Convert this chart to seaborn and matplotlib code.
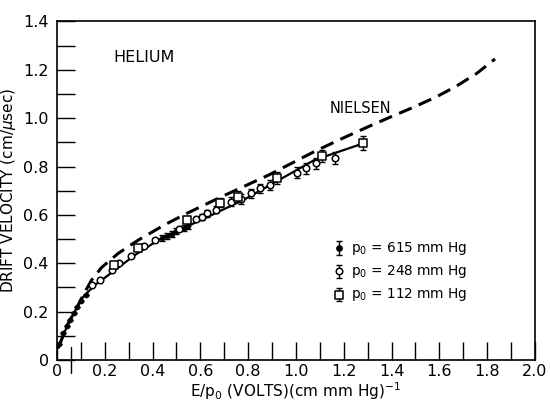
import numpy as np
import pandas as pd
import matplotlib
matplotlib.use("Agg")
import matplotlib.pyplot as plt
import seaborn as sns
from matplotlib.ticker import MultipleLocator, FixedLocator, FixedFormatter

# --- data ---
nielsen_x = [0.005, 0.047, 0.082, 0.11, 0.145, 0.187, 0.256, 0.34, 0.452, 0.536, 0.69, 0.886,
             1.077, 1.184, 1.296, 1.393, 1.491, 1.589, 1.672, 1.756, 1.833]
nielsen_y = [0.05, 0.152, 0.214, 0.269, 0.331, 0.383, 0.441, 0.496, 0.56, 0.603, 0.676, 0.765,
             0.862, 0.912, 0.962, 1.004, 1.045, 1.089, 1.133, 1.185, 1.245]

fit_x = [0.005, 0.047, 0.082, 0.11, 0.159, 0.243, 0.326, 0.424, 0.528, 0.635, 0.78, 0.93, 1.077, 1.282]
fit_y = [0.05, 0.152, 0.214, 0.262, 0.31, 0.372, 0.434, 0.496, 0.545, 0.594, 0.662, 0.745, 0.827, 0.896]

p615_x = [0.01, 0.025, 0.04, 0.055, 0.07, 0.085, 0.10, 0.12, 0.44, 0.46, 0.48, 0.50, 0.53, 0.55]
p615_y = [0.065, 0.11, 0.14, 0.167, 0.193, 0.218, 0.245, 0.268, 0.504, 0.513, 0.522, 0.532, 0.546, 0.555]
p615_e = [0, 0, 0, 0, 0, 0, 0, 0, 0.012, 0.012, 0.012, 0.012, 0.012, 0.012]

p248_x = [0.148, 0.18, 0.229, 0.258, 0.31, 0.366, 0.41, 0.51, 0.583, 0.605, 0.627, 0.664, 0.73,
          0.77, 0.81, 0.85, 0.89, 1.004, 1.04, 1.085, 1.163]
p248_y = [0.309, 0.333, 0.372, 0.402, 0.432, 0.47, 0.498, 0.542, 0.583, 0.59, 0.607, 0.621, 0.655,
          0.665, 0.69, 0.71, 0.724, 0.775, 0.793, 0.813, 0.834]
p248_e = [0, 0, 0, 0, 0, 0, 0, 0, 0.01, 0.012, 0.015, 0.015, 0.018, 0.02, 0.018, 0.02, 0.02,
          0.022, 0.022, 0.022, 0.025]

p112_x = [0.24, 0.34, 0.542, 0.684, 0.757, 0.92, 1.107, 1.281]
p112_y = [0.395, 0.463, 0.58, 0.651, 0.676, 0.754, 0.843, 0.898]
p112_e = [0.0, 0.012, 0.015, 0.02, 0.022, 0.025, 0.025, 0.03]

x_major = [0.0, 0.2, 0.4, 0.6, 0.8, 1.0, 1.2, 1.4, 1.6, 1.8, 2.0]
x_labels = ["0", "0.2", "0.4", "0.6", "0.8", "1.0", "1.2", "1.4", "1.6", "1.8", "2.0"]
y_major = [0.0, 0.2, 0.4, 0.6, 0.8, 1.0, 1.2, 1.4]
y_labels = ["0", "0.2", "0.4", "0.6", "0.8", "1.0", "1.2", "1.4"]
marker_tick_x = 0.059

legend_labels = ["p$_0$ = 615 mm Hg", "p$_0$ = 248 mm Hg", "p$_0$ = 112 mm Hg"]

# --- plot ---
sns.set_theme(style="white")
plt.rcParams["font.family"] = ["DejaVu Sans"]
plt.rcParams["text.color"] = "black"
plt.rcParams["axes.labelcolor"] = "black"
plt.rcParams["xtick.color"] = "black"
plt.rcParams["ytick.color"] = "black"

fig = plt.figure(figsize=(5.5, 4.11), dpi=100)
ax = fig.add_axes([0.1036, 0.124, 0.869, 0.8237])

sns.lineplot(x=nielsen_x, y=nielsen_y, ax=ax, color="black", lw=2.2,
             linestyle=(0, (4.5, 2.5)), sort=False)
sns.lineplot(x=fit_x, y=fit_y, ax=ax, color="black", lw=1.6, sort=False)

ek = dict(fmt="none", ecolor="black", elinewidth=1.0, capsize=2.2, capthick=1.0, zorder=3)
ax.errorbar(p615_x, p615_y, yerr=p615_e, **ek)
ax.errorbar(p248_x, p248_y, yerr=p248_e, **ek)
ax.errorbar(p112_x, p112_y, yerr=p112_e, **ek)
sns.scatterplot(x=p615_x, y=p615_y, ax=ax, marker="o", s=14, color="black",
                edgecolor="black", zorder=4)
sns.scatterplot(x=p248_x, y=p248_y, ax=ax, marker="o", s=22, facecolor="white",
                edgecolor="black", linewidth=1.1, zorder=4)
sns.scatterplot(x=p112_x, y=p112_y, ax=ax, marker="s", s=26, facecolor="white",
                edgecolor="black", linewidth=1.1, zorder=4)

# legend drawn manually as in the original
leg_x = 1.18
leg_y = [0.463, 0.367, 0.271]
styles = [dict(marker="o", s=14, facecolor="black"),
          dict(marker="o", s=22, facecolor="white"),
          dict(marker="s", s=26, facecolor="white")]
for yy, lab, st in zip(leg_y, legend_labels, styles):
    ax.errorbar([leg_x], [yy], yerr=[0.028], **ek)
    ax.scatter([leg_x], [yy], edgecolor="black", linewidth=1.1, zorder=4, **st)
    ax.text(leg_x + 0.05, yy, lab, fontsize=9.8, va="center", ha="left")

ax.text(0.236, 1.25, "HELIUM", fontsize=11.5, ha="left", va="center")
ax.text(1.14, 1.04, "NIELSEN", fontsize=10.5, ha="left", va="center")

ax.set_xlim(0, 2.0)
ax.set_ylim(0, 1.4)
ax.xaxis.set_major_locator(FixedLocator(x_major))
ax.xaxis.set_major_formatter(FixedFormatter(x_labels))
ax.yaxis.set_major_locator(FixedLocator(y_major))
ax.yaxis.set_major_formatter(FixedFormatter(y_labels))
ax.xaxis.set_minor_locator(MultipleLocator(0.1))
ax.yaxis.set_minor_locator(MultipleLocator(0.1))
ax.tick_params(axis="both", which="both", direction="in", length=13, width=1.0,
               color="black", labelsize=11.5)
ax.tick_params(axis="x", which="both", pad=3)
ax.tick_params(axis="y", which="both", pad=6)
ax.tick_params(axis="both", which="both", top=False, right=False, bottom=True, left=True)

ax.plot([marker_tick_x, marker_tick_x], [-0.055, 0.055], color="black", lw=1.0,
        clip_on=False)

for sp in ax.spines.values():
    sp.set_color("black")
    sp.set_linewidth(1.2)

ax.set_xlabel("E/p$_0$ (VOLTS)(cm mm Hg)$^{-1}$", fontsize=11, labelpad=1)
ax.set_ylabel("DRIFT VELOCITY (cm/$\\mu$sec)", fontsize=11, labelpad=4)

fig.savefig("out.png", dpi=100)
